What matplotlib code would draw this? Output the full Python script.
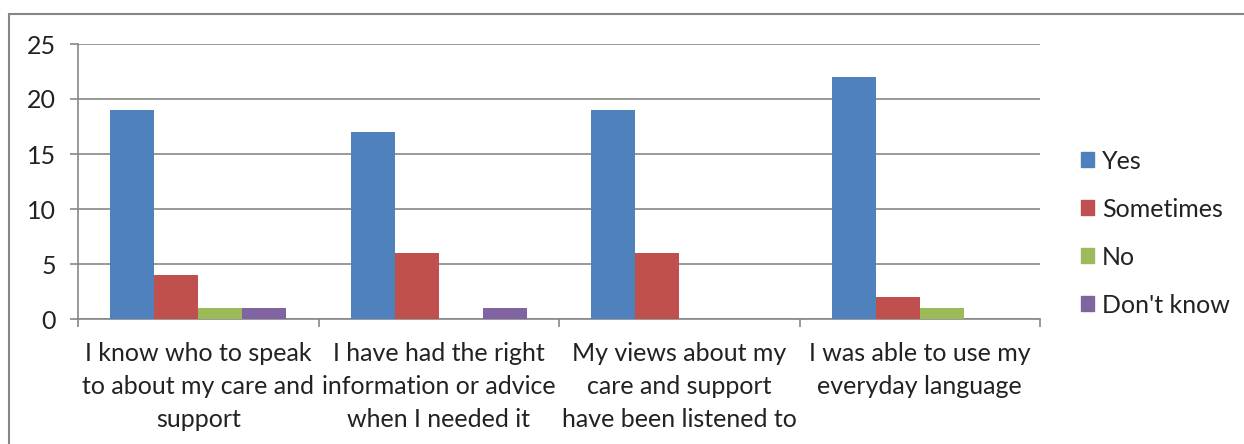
import numpy as np
import matplotlib.pyplot as plt
from matplotlib.patches import Rectangle, Patch

categories = ["I know who to speak\nto about my care and\nsupport",
              "I have had the right\ninformation or advice\nwhen I needed it",
              "My views about my\ncare and support\nhave been listened to",
              "I was able to use my\neveryday language"]
series = ["Yes", "Sometimes", "No", "Don't know"]
yes = [19, 17, 19, 22]
sometimes = [4, 6, 6, 2]
no = [1, 0, 0, 1]
dont_know = [1, 1, 0, 0]
colors = ["#4F81BD", "#C0504D", "#9BBB59", "#8064A2"]

plt.rcParams['font.family'] = ['Lato', 'DejaVu Sans']
W, H = 1244, 444
fig = plt.figure(figsize=(W / 100, H / 100), dpi=100)
ax = fig.add_axes([78 / W, (H - 319) / H, 962 / W, 275 / H])

x = np.arange(len(categories))
w = 0.183
for i, (vals, c) in enumerate(zip([yes, sometimes, no, dont_know], colors)):
    ax.bar(x + (i - 1.5) * w, vals, width=w, color=c, zorder=3)

ax.set_xlim(-0.5, 3.5)
ax.set_ylim(0, 25)
ax.set_yticks(range(0, 26, 5))
ax.yaxis.grid(True, color="#878787", lw=1.2, zorder=0)
for s in ["top", "right"]:
    ax.spines[s].set_visible(False)
for s in ["left", "bottom"]:
    ax.spines[s].set_color("#878787")
    ax.spines[s].set_linewidth(1.2)

ax.set_xticks(x)
ax.set_xticklabels(categories, linespacing=1.52)
ax.set_xticks(np.arange(-0.5, 4, 1), minor=True)
ax.tick_params(axis="x", which="major", length=0, pad=16.5, labelsize=18, colors="#222222")
ax.tick_params(axis="x", which="minor", length=6, width=1.2, color="#878787")
ax.tick_params(axis="y", length=6, width=1.2, color="#878787", pad=10, labelsize=18,
               labelcolor="#222222")

handles = [Patch(color=c) for c in colors]
fig.legend(handles, series, loc="center left", bbox_to_anchor=(1058 / W, (H - 233) / H),
           frameon=False, fontsize=18, handlelength=0.55, handleheight=0.55,
           handletextpad=0.3, labelspacing=1.0, labelcolor="#222222")

fig.patches.append(Rectangle((9 / W, -0.1), 1.2, (H - 14) / H + 0.1, transform=fig.transFigure,
                             fill=False, ec="#868686", lw=1.5))

fig.savefig("out.png", dpi=100)
